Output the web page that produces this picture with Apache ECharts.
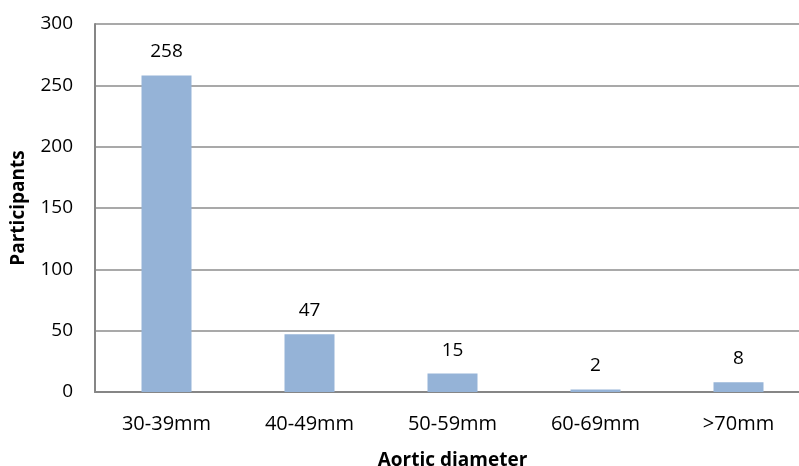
<!DOCTYPE html>
<html><head><meta charset="utf-8">
<script src="https://cdn.jsdelivr.net/npm/echarts@6/dist/echarts.min.js"></script>
<style>html,body{margin:0;padding:0;background:#fff}#c{width:799px;height:466px}</style>
</head><body><div id="c"></div>
<script>
var categories = ['30-39mm','40-49mm','50-59mm','60-69mm','>70mm'];
var participants = [258, 47, 15, 2, 8];
var yTicks = [0, 50, 100, 150, 200, 250, 300];

var chart = echarts.init(document.getElementById('c'));
var font = 'Open Sans, Liberation Sans, sans-serif';
chart.setOption({
  animation: false,
  grid: {left: 95, right: -11, top: 24, bottom: 74, outerBoundsMode: 'none', containLabel: false},
  xAxis: {
    type: 'category', data: categories,
    name: 'Aortic diameter', nameLocation: 'middle', nameGap: 59,
    nameTextStyle: {fontFamily: font, fontSize: 19, fontWeight: 'bold', color: '#000'},
    axisLine: {lineStyle: {color: '#868686', width: 2}},
    axisTick: {show: false},
    axisLabel: {fontFamily: font, fontSize: 20, color: '#000', margin: 22}
  },
  yAxis: {
    type: 'value', min: 0, max: 300, interval: 50,
    name: 'Participants', nameLocation: 'middle', nameGap: 67,
    nameTextStyle: {fontFamily: font, fontSize: 19, fontWeight: 'bold', color: '#000'},
    axisLine: {show: true, lineStyle: {color: '#868686', width: 2}},
    axisTick: {show: false},
    axisLabel: {fontFamily: font, fontSize: 19, color: '#000', margin: 22,
      formatter: function(v){ return yTicks.indexOf(v) >= 0 ? String(v) : ''; }},
    splitLine: {show: true, lineStyle: {color: '#8c8c8c', width: 1.5}}
  },
  series: [{
    type: 'bar', data: participants, barWidth: 50,
    itemStyle: {color: '#95B3D7'},
    label: {show: true, position: 'top', distance: 14, fontFamily: font, fontSize: 19, color: '#000'}
  }]
});
</script></body></html>
